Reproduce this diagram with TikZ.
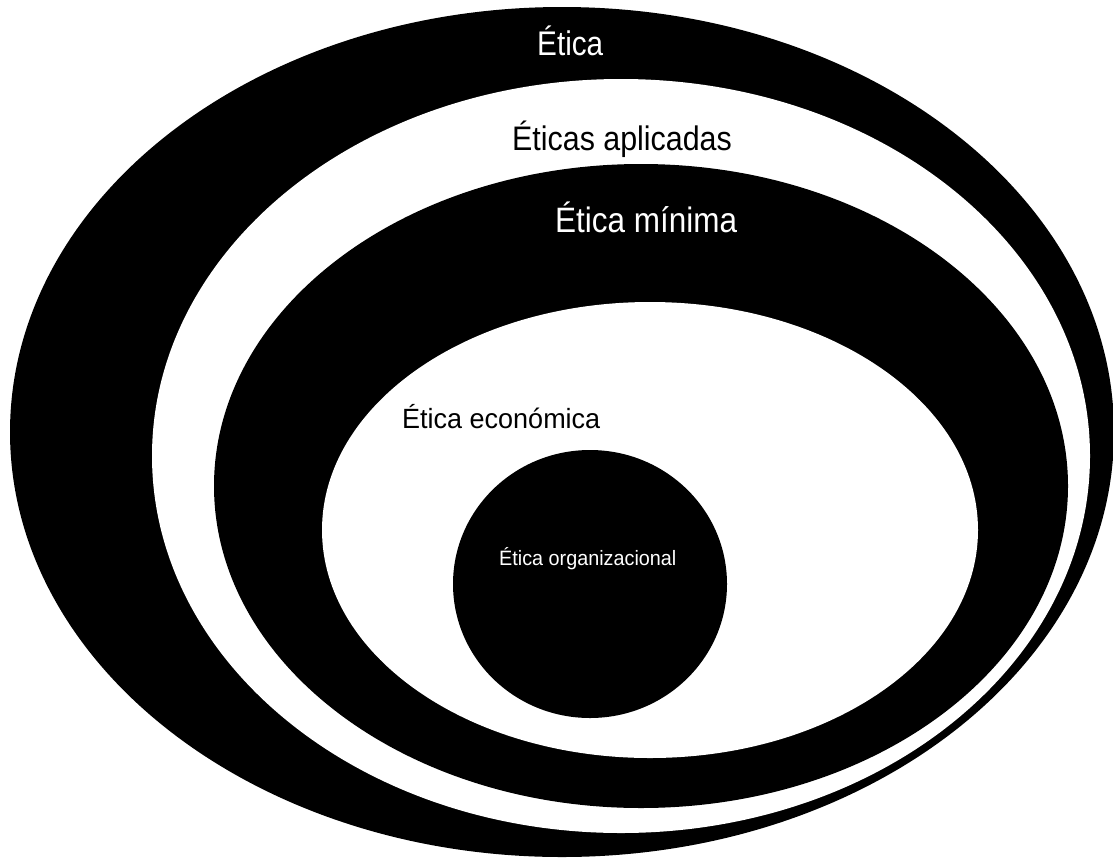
\documentclass[tikz,border=0pt]{standalone}
\usepackage{graphicx}
\usepackage{fontspec}
\setmainfont{Liberation Sans}
\begin{document}
\begin{tikzpicture}[x=1pt,y=-1pt,
  blackring/.style={fill=black},
  whitering/.style={fill=white},
  lbl/.style={inner sep=0pt,anchor=base west}]
\useasboundingbox[fill=white] (0,0) rectangle (1113,857);
\fill[blackring] (562,432) ellipse [x radius=552pt, y radius=425pt];
\fill[whitering] (621,456) ellipse [x radius=469pt, y radius=377pt];
\fill[blackring] (641,486) ellipse [x radius=427pt, y radius=322pt];
\fill[whitering] (650,530) ellipse [x radius=328pt, y radius=228pt];
\fill[blackring] (590,584) ellipse [x radius=137pt, y radius=134pt];
\node[lbl,text=white,font=\fontsize{29.7pt}{34pt}\selectfont] (etica) at (537,55) {\scalebox{1}[1.15]{Ética}};
\node[lbl,text=black,font=\fontsize{30.4pt}{35pt}\selectfont] (aplicadas) at (512,150) {\scalebox{1}[1.12]{Éticas aplicadas}};
\node[lbl,text=white,font=\fontsize{31.5pt}{36pt}\selectfont] (minima) at (555,232) {\scalebox{1}[1.12]{Ética mínima}};
\node[lbl,text=black,font=\fontsize{27pt}{31pt}\selectfont] (economica) at (402,428) {\scalebox{1}[1.03]{Ética económica}};
\node[lbl,text=white,font=\fontsize{19.8pt}{23pt}\selectfont] (organizacional) at (499,565) {\scalebox{1}[1.05]{Ética organizacional}};
\end{tikzpicture}
\end{document}
